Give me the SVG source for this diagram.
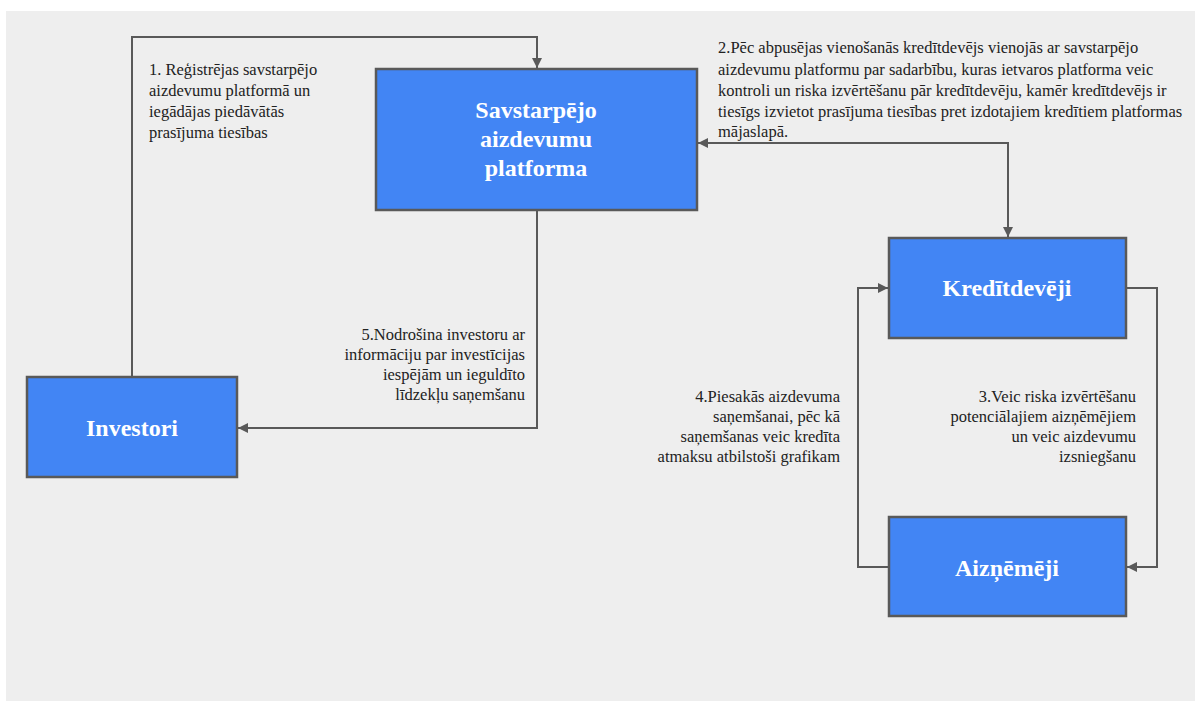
<svg xmlns="http://www.w3.org/2000/svg" width="1197" height="701" viewBox="0 0 1197 701">
<defs>
<marker id="arr" viewBox="0 0 10 10" refX="10" refY="5" markerWidth="10" markerHeight="10" markerUnits="userSpaceOnUse" orient="auto-start-reverse">
<path d="M0,0 L10,5 L0,10 z" fill="#595959"/>
</marker>
<style>
.node rect{fill:#4285f4;stroke:#595959;stroke-width:2.5}
.nt{font-family:"Liberation Serif","Times New Roman",serif;font-weight:bold;font-size:24px;fill:#ffffff;text-anchor:middle}
.lbl{font-family:"Liberation Serif","Times New Roman",serif;font-size:16.5px;fill:#222222}
.r{text-anchor:end}
.conn path{fill:none;stroke:#595959;stroke-width:2}
</style>
</defs>
<rect x="0" y="0" width="1197" height="701" fill="#ffffff"/>
<rect x="6" y="11" width="1189" height="690" fill="#eeeeee"/>

<g class="conn">
<path d="M132,377 V37 H537 V68" marker-end="url(#arr)"/>
<path d="M698,143 H1008 V237" marker-start="url(#arr)" marker-end="url(#arr)"/>
<path d="M1127,288 H1157 V567 H1127" marker-end="url(#arr)"/>
<path d="M889,567 H858 V288 H888" marker-end="url(#arr)"/>
<path d="M537,211 V428 H238" marker-end="url(#arr)"/>
</g>

<g id="platforma" class="node">
<rect x="376" y="69" width="321" height="141"/>
<text class="nt" x="536" y="118">Savstarpējo</text>
<text class="nt" x="536" y="147">aizdevumu</text>
<text class="nt" x="536" y="176">platforma</text>
</g>
<g id="investori" class="node">
<rect x="27" y="377" width="210" height="100"/>
<text class="nt" x="132" y="436">Investori</text>
</g>
<g id="kreditdeveji" class="node">
<rect x="889" y="238" width="237" height="100"/>
<text class="nt" x="1007" y="296">Kredītdevēji</text>
</g>
<g id="aiznemeji" class="node">
<rect x="889" y="517" width="237" height="99"/>
<text class="nt" x="1007" y="576">Aizņēmēji</text>
</g>

<g id="labels">
<text class="lbl" x="149" y="75">1. Reģistrējas savstarpējo</text>
<text class="lbl" x="149" y="96">aizdevumu platformā un</text>
<text class="lbl" x="149" y="117">iegādājas piedāvātās</text>
<text class="lbl" x="149" y="138">prasījuma tiesības</text>

<text class="lbl" x="718" y="53">2.Pēc abpusējas vienošanās kredītdevējs vienojās ar savstarpējo</text>
<text class="lbl" x="718" y="75">aizdevumu platformu par sadarbību, kuras ietvaros platforma veic</text>
<text class="lbl" x="718" y="96">kontroli un riska izvērtēšanu pār kredītdevēju, kamēr kredītdevējs ir</text>
<text class="lbl" x="718" y="117">tiesīgs izvietot prasījuma tiesības pret izdotajiem kredītiem platformas</text>
<text class="lbl" x="718" y="137">mājaslapā.</text>

<text class="lbl r" x="1136" y="402">3.Veic riska izvērtēšanu</text>
<text class="lbl r" x="1136" y="422">potenciālajiem aizņēmējiem</text>
<text class="lbl r" x="1136" y="442">un veic aizdevumu</text>
<text class="lbl r" x="1136" y="462">izsniegšanu</text>

<text class="lbl r" x="840" y="402">4.Piesakās aizdevuma</text>
<text class="lbl r" x="840" y="422">saņemšanai, pēc kā</text>
<text class="lbl r" x="840" y="442">saņemšanas veic kredīta</text>
<text class="lbl r" x="840" y="462">atmaksu atbilstoši grafikam</text>

<text class="lbl r" x="525" y="340">5.Nodrošina investoru ar</text>
<text class="lbl r" x="525" y="360">informāciju par investīcijas</text>
<text class="lbl r" x="525" y="380">iespējām un ieguldīto</text>
<text class="lbl r" x="525" y="400">līdzekļu saņemšanu</text>
</g>
</svg>
